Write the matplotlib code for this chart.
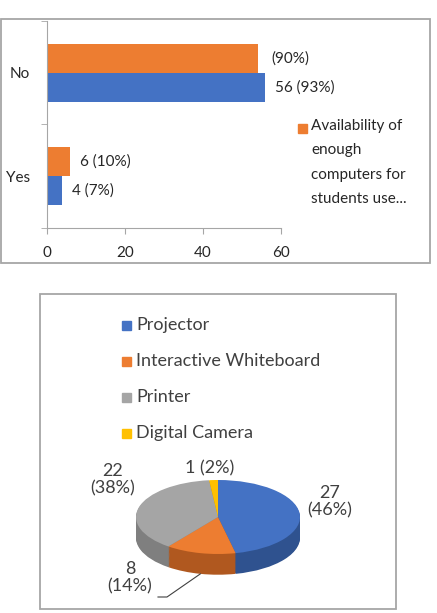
import numpy as np
import matplotlib.pyplot as plt
import matplotlib.patches as mpatches

plt.rcParams['font.family'] = ['Lato', 'DejaVu Sans']

W, H = 437, 613

# bar chart data
answers = ['Yes', 'No']
computers = [4, 56]
computers_labels = ['4 (7%)', '56 (93%)']
enough = [6, 54]
enough_labels = ['6 (10%)', '(90%)']
legend_label = 'Availability of\nenough\ncomputers for\nstudents use...'

# pie chart data
equipment = ['Projector', 'Interactive Whiteboard', 'Printer', 'Digital Camera']
equip_counts = [27, 8, 22, 1]
equip_labels = ['27\n(46%)', '8\n(14%)', '22\n(38%)', '1 (2%)']

blue, orange, gray, yellow = '#4472C4', '#ED7D31', '#A5A5A5', '#FFC000'
top_colors = [blue, orange, gray, yellow]
side_colors = ['#2F528F', '#B0581F', '#7F7F7F', '#BF9000']
txt = '#262626'

fig = plt.figure(figsize=(W / 100, H / 100), dpi=100)


def box(x0, y0, x1, y1):
    # pixel box, top-left origin -> figure fractions
    return [x0 / W, 1 - y1 / H, (x1 - x0) / W, (y1 - y0) / H]


def frame(x0, y0, x1, y1):
    fig.patches.append(mpatches.Rectangle((x0 / W, 1 - y1 / H), (x1 - x0) / W, (y1 - y0) / H,
                                          transform=fig.transFigure, fill=False,
                                          ec='#a6a6a6', lw=1.3))


# ---- top: horizontal bars ----
frame(1, 19, 430, 263)
ax = fig.add_axes(box(46.7, 21, 281, 228))
y = np.arange(len(answers))
h = 0.28
ax.barh(y + h / 2, enough, height=h, color=orange)
ax.barh(y - h / 2, computers, height=h, color=blue)
for i in range(len(answers)):
    ax.annotate(enough_labels[i], (enough[i], y[i] + h / 2), xytext=(7 if i == 0 else 10, 0),
                textcoords='offset points', va='center', fontsize=11, color=txt)
    ax.annotate(computers_labels[i], (computers[i], y[i] - h / 2), xytext=(7, 0),
                textcoords='offset points', va='center', fontsize=11, color=txt)
ax.set_xlim(0, 60)
ax.set_ylim(-0.5, 1.5)
ax.set_xticks([0, 20, 40, 60])
ax.set_yticks(y)
ax.set_yticklabels(answers)
ax.set_yticks([-0.5, 0.5, 1.5], minor=True)
ax.tick_params(axis='y', which='major', length=0, pad=12, labelsize=11, labelcolor=txt)
ax.tick_params(axis='y', which='minor', length=4, color='#a6a6a6')
ax.tick_params(axis='x', length=4, color='#a6a6a6', pad=9, labelsize=11, labelcolor=txt)
for s in ['top', 'right']:
    ax.spines[s].set_visible(False)
for s in ['left', 'bottom']:
    ax.spines[s].set_color('#a6a6a6')

fig.patches.append(mpatches.Rectangle((298 / W, 1 - 133 / H), 9 / W, 9 / H,
                                      transform=fig.transFigure, color=orange))
fig.text(311 / W, 1 - 119 / H, legend_label, va='top', ha='left', fontsize=11,
         color=txt, linespacing=1.95)

# ---- bottom: 3D-looking pie ----
frame(40, 294, 396, 609)
for i, name in enumerate(equipment):
    yc = 325 + i * 36
    fig.patches.append(mpatches.Rectangle((122 / W, 1 - (yc + 5) / H), 9 / W, 9 / H,
                                          transform=fig.transFigure, color=top_colors[i]))
    fig.text(136 / W, 1 - yc / H, name, va='center', ha='left', fontsize=13, color='#404040')

cx, cy, rx, ry = 218, 517, 82, 37
depth = 0.56
pax = fig.add_axes(box(cx - rx, cy - ry, cx + rx, cy - ry + 2.6 * ry))
n = 24
for k in range(n, 0, -1):
    pax.pie(equip_counts, colors=side_colors, startangle=90, counterclock=False,
            center=(0, -depth * k / n), wedgeprops=dict(linewidth=0))
pax.pie(equip_counts, colors=top_colors, startangle=90, counterclock=False,
        wedgeprops=dict(linewidth=0))
pax.set_aspect('auto')
pax.set_xlim(-1, 1)
pax.set_ylim(-1.6, 1)
pax.axis('off')


def px2d(px, py):
    return (px - cx) / rx, (cy - py) / ry


label_px = [(330, 502), (130, 578), (113, 480), (210, 468)]
for lbl, (px, py) in zip(equip_labels, label_px):
    xd, yd = px2d(px, py)
    pax.text(xd, yd, lbl, ha='center', va='center', fontsize=13, color='#404040',
             linespacing=1.1)

# leader line for the small orange slice
total = sum(equip_counts)
mid = np.deg2rad(90 - 360 * (equip_counts[0] + equip_counts[1] / 2) / total)
x1, y1 = px2d(158, 597)
x2, _ = px2d(167, 597)
pax.plot([x1, x2, np.cos(mid)], [y1, y1, np.sin(mid) - depth], color='#404040',
         lw=0.8, clip_on=False)

fig.savefig('out.png', dpi=100)
